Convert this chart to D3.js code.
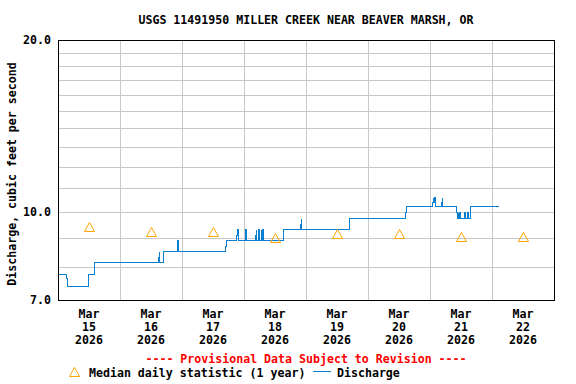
<!DOCTYPE html>
<html>
<head>
<meta charset="utf-8">
<script src="https://cdn.jsdelivr.net/npm/d3@7"></script>
<style>
  body { margin: 0; background: #fff; }
  text { font-family: "DejaVu Sans Mono", "Liberation Mono", monospace; font-weight: bold; font-size: 11.6px; }
</style>
</head>
<body>
<div id="chart"></div>
<script>
// discharge, 15-minute record (only the points where the value changes)
var flowTimes = [
  "2026-03-15T00:00", "2026-03-15T03:15", "2026-03-15T03:30", "2026-03-15T11:45", "2026-03-15T14:00",
  "2026-03-16T14:45", "2026-03-16T15:00", "2026-03-16T15:15", "2026-03-16T16:45",
  "2026-03-16T22:00", "2026-03-16T22:15", "2026-03-16T22:30",
  "2026-03-17T16:45", "2026-03-17T17:00",
  "2026-03-17T21:00", "2026-03-17T21:15", "2026-03-17T21:30",
  "2026-03-18T00:15", "2026-03-18T00:30", "2026-03-18T00:45",
  "2026-03-18T04:15", "2026-03-18T04:30", "2026-03-18T04:45",
  "2026-03-18T05:30", "2026-03-18T05:45",
  "2026-03-18T06:30", "2026-03-18T06:45",
  "2026-03-18T07:00", "2026-03-18T07:15",
  "2026-03-18T15:00", "2026-03-18T15:15",
  "2026-03-18T21:45", "2026-03-18T22:00", "2026-03-18T22:15",
  "2026-03-19T16:30", "2026-03-19T16:45",
  "2026-03-20T14:30", "2026-03-20T14:45",
  "2026-03-21T00:45", "2026-03-21T01:00", "2026-03-21T01:15", "2026-03-21T01:30", "2026-03-21T01:45",
  "2026-03-21T04:15", "2026-03-21T04:30", "2026-03-21T04:45",
  "2026-03-21T10:15", "2026-03-21T10:30", "2026-03-21T10:45", "2026-03-21T11:00", "2026-03-21T11:15", "2026-03-21T11:30",
  "2026-03-21T13:15", "2026-03-21T13:30", "2026-03-21T14:30", "2026-03-21T14:45",
  "2026-03-21T15:30",
  "2026-03-22T02:30"
];
var flowValues = [
  7.77, 7.65, 7.40, 7.77, 8.15,
  8.34, 8.53, 8.15, 8.53,
  8.72, 8.91, 8.53,
  8.72, 8.91,
  9.10, 9.31, 8.91,
  9.10, 9.31, 8.91,
  9.10, 9.31, 8.91,
  9.31, 8.91,
  9.31, 8.91,
  9.31, 8.91,
  9.10, 9.31,
  9.52, 9.74, 9.31,
  9.52, 9.74,
  9.97, 10.22,
  10.40, 10.60, 10.40, 10.60, 10.22,
  10.40, 10.60, 10.22,
  9.97, 9.74, 9.97, 9.74, 9.97, 9.74,
  9.97, 9.74, 9.97, 9.74,
  10.22,
  10.22
];

// median daily statistic (1 year), plotted at noon
var medianDays = ["2026-03-15", "2026-03-16", "2026-03-17", "2026-03-18", "2026-03-19", "2026-03-20", "2026-03-21", "2026-03-22"];
var medianValues = [9.40, 9.22, 9.22, 9.00, 9.13, 9.13, 9.02, 9.02];

var yTickValues = [7, 10, 20];
var yGridValues = [8, 9, 10, 11, 12, 13, 14, 15, 16, 17, 18, 19];

var parseTime = d3.timeParse("%Y-%m-%dT%H:%M");
var parseDay = d3.timeParse("%Y-%m-%d");

var width = 576, height = 384;
var plotLeft = 58, plotRight = 554, plotTop = 40, plotBottom = 300;
var flowColor = "#0a7fd0", medianColor = "#ffa500";

var svg = d3.select("#chart").append("svg")
  .attr("width", width)
  .attr("height", height);

var x = d3.scaleTime()
  .domain([parseDay("2026-03-15"), parseDay("2026-03-23")])
  .range([plotLeft, plotRight]);

var y = d3.scaleLog()
  .domain([7, 20])
  .range([plotBottom, plotTop]);

// grid
var dayLines = d3.timeDay.range(parseDay("2026-03-16"), parseDay("2026-03-23"));
svg.append("g").selectAll("line").data(dayLines).enter().append("line")
  .attr("x1", function(d){ return Math.round(x(d)) + 0.5; })
  .attr("x2", function(d){ return Math.round(x(d)) + 0.5; })
  .attr("y1", plotTop).attr("y2", plotBottom)
  .style("stroke", "#c8c8c8").style("stroke-width", 1);

svg.append("g").selectAll("line").data(yGridValues).enter().append("line")
  .attr("x1", plotLeft).attr("x2", plotRight)
  .attr("y1", function(d){ return Math.round(y(d)) + 0.5; })
  .attr("y2", function(d){ return Math.round(y(d)) + 0.5; })
  .style("stroke", "#c8c8c8").style("stroke-width", 1);

// y tick labels
svg.append("g").selectAll("text").data(yTickValues).enter().append("text")
  .attr("x", plotLeft - 7)
  .attr("y", function(d){ return y(d) + 4; })
  .attr("text-anchor", "end")
  .text(function(d){ return d3.format(".1f")(d); });

// x tick labels (centered at noon)
var labelDays = medianDays.map(parseDay);
var noonX = function(d){ return x(d3.timeHour.offset(d, 12)); };
var xLabels = svg.append("g").selectAll("text").data(labelDays).enter().append("text")
  .attr("text-anchor", "middle")
  .attr("x", noonX)
  .attr("y", 318);
xLabels.append("tspan").attr("x", noonX).text(d3.timeFormat("%b"));
xLabels.append("tspan").attr("x", noonX).attr("dy", 13).text(d3.timeFormat("%d"));
xLabels.append("tspan").attr("x", noonX).attr("dy", 13).text(d3.timeFormat("%Y"));

// discharge line
var flow = flowTimes.map(function(t, i){ return {t: parseTime(t), v: flowValues[i]}; });
var line = d3.line()
  .x(function(d){ return Math.round(x(d.t)) + 0.5; })
  .y(function(d){ return Math.round(y(d.v)) + 0.5; })
  .curve(d3.curveStepAfter);
svg.append("path")
  .datum(flow)
  .attr("d", line)
  .style("fill", "none")
  .style("stroke", flowColor)
  .style("stroke-width", 1)
  .style("shape-rendering", "crispEdges");

// median triangles
var tri = "M0,-5L5,4L-5,4Z";
svg.append("g").selectAll("path").data(medianDays).enter().append("path")
  .attr("d", tri)
  .attr("transform", function(d, i){
    return "translate(" + (Math.round(noonX(parseDay(d))) + 0.5) + "," + (Math.round(y(medianValues[i])) + 0.5) + ")";
  })
  .style("fill", "none")
  .style("stroke", medianColor)
  .style("stroke-width", 1);

// frame
svg.append("rect")
  .attr("x", plotLeft + 0.5).attr("y", plotTop + 0.5)
  .attr("width", plotRight - plotLeft).attr("height", plotBottom - plotTop)
  .style("fill", "none").style("stroke", "#000").style("stroke-width", 1);

// title and labels
svg.append("text")
  .attr("x", 306).attr("y", 24)
  .attr("text-anchor", "middle")
  .text("USGS 11491950 MILLER CREEK NEAR BEAVER MARSH, OR");

svg.append("text")
  .attr("transform", "translate(16,174) rotate(-90)")
  .attr("text-anchor", "middle")
  .text("Discharge, cubic feet per second");

svg.append("text")
  .attr("x", 306).attr("y", 363)
  .attr("text-anchor", "middle")
  .style("fill", "#ff0000")
  .text("---- Provisional Data Subject to Revision ----");

// legend
svg.append("path")
  .attr("d", tri)
  .attr("transform", "translate(74.5,372.5)")
  .style("fill", "none").style("stroke", medianColor).style("stroke-width", 1);
svg.append("text").attr("x", 89).attr("y", 377).text("Median daily statistic (1 year)");
svg.append("line")
  .attr("x1", 313).attr("x2", 331).attr("y1", 371.5).attr("y2", 371.5)
  .style("stroke", flowColor).style("stroke-width", 1);
svg.append("text").attr("x", 337).attr("y", 377).text("Discharge");
</script>
</body>
</html>
